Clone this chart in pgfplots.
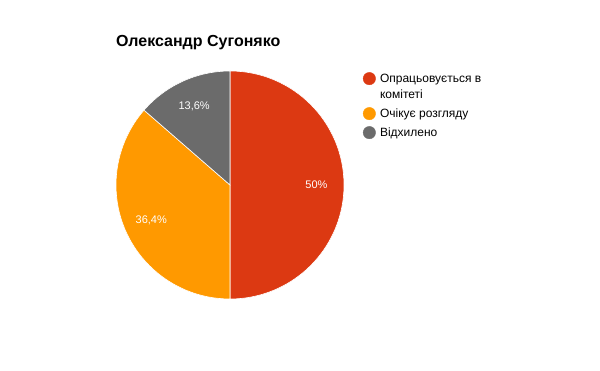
\documentclass[border=0pt]{standalone}
\usepackage{fontspec}
\setmainfont{Liberation Sans}
\usepackage{pgfplots}
\usepackage{pgfplotstable}
\pgfplotsset{compat=1.18}
\definecolor{c0}{HTML}{DC3912}
\definecolor{c1}{HTML}{FF9900}
\definecolor{c2}{HTML}{6B6B6B}

\pgfplotstableread{
value
50
36.4
13.6
}\piedata

\newcommand\lentry[1]{\begin{tabular}[t]{@{}l@{}}#1\end{tabular}}

\begin{document}
\begin{tikzpicture}[x=1pt,y=1pt]
\xdef\cum{90}
\pgfplotstableforeachcolumnelement{value}\of\piedata\as\v{%
  \pgfmathsetmacro{\endang}{\cum-3.6*\v}%
  \pgfmathsetmacro{\midang}{(\cum+\endang)/2}%
  \expandafter\xdef\csname sa\pgfplotstablerow\endcsname{\cum}%
  \expandafter\xdef\csname ea\pgfplotstablerow\endcsname{\endang}%
  \expandafter\xdef\csname ma\pgfplotstablerow\endcsname{\midang}%
  \expandafter\xdef\csname pv\pgfplotstablerow\endcsname{\v}%
  \xdef\cum{\endang}%
}
\path[use as bounding box] (0,0) rectangle (600,371);
\begin{axis}[
  at={(116pt,72pt)}, anchor=south west,
  scale only axis, width=228pt, height=228pt,
  xmin=-1, xmax=1, ymin=-1, ymax=1,
  hide axis, clip=false,
  title={Олександр Сугоняко},
  title style={at={(0,1)}, anchor=base west, yshift=18pt, inner sep=0pt,
    font=\bfseries\fontsize{16}{19}\selectfont},
  legend style={at={(1.07,1.01)}, anchor=north west, draw=none, fill=none,
    font=\fontsize{12}{16}\selectfont, row sep=2pt,
    nodes={inner sep=0.5pt, text depth={}},
    cells={anchor=base west},
    /tikz/every odd column/.append style={column sep=4pt}},
  legend image post style={yshift=4pt},
  /pgf/number format/assume math mode=true,
]
\pgfplotsinvokeforeach{0,1,2}{
  \fill[c#1, draw=white, line width=0.6pt] (axis cs:0,0) -- ++(\csname sa#1\endcsname:114pt)
    arc[start angle=\csname sa#1\endcsname, end angle=\csname ea#1\endcsname, radius=114pt] -- cycle;
}
\pgfplotsinvokeforeach{0,1,2}{
  \node[white, font=\fontsize{11}{13}\selectfont] at (axis cs:0,0) [shift={(\csname ma#1\endcsname:86.5pt)}]
    {\pgfmathprintnumber[use comma,assume math mode=true]{\csname pv#1\endcsname}\%};
}
\addlegendimage{only marks, mark=*, mark size=6.2pt, c0, mark options={draw=c0}}
\addlegendentry{\lentry{Опрацьовується в\\комітеті}}
\addlegendimage{only marks, mark=*, mark size=6.2pt, c1, mark options={draw=c1}}
\addlegendentry{\lentry{Очікує розгляду}}
\addlegendimage{only marks, mark=*, mark size=6.2pt, c2, mark options={draw=c2}}
\addlegendentry{\lentry{Відхилено}}
\end{axis}
\end{tikzpicture}
\end{document}
